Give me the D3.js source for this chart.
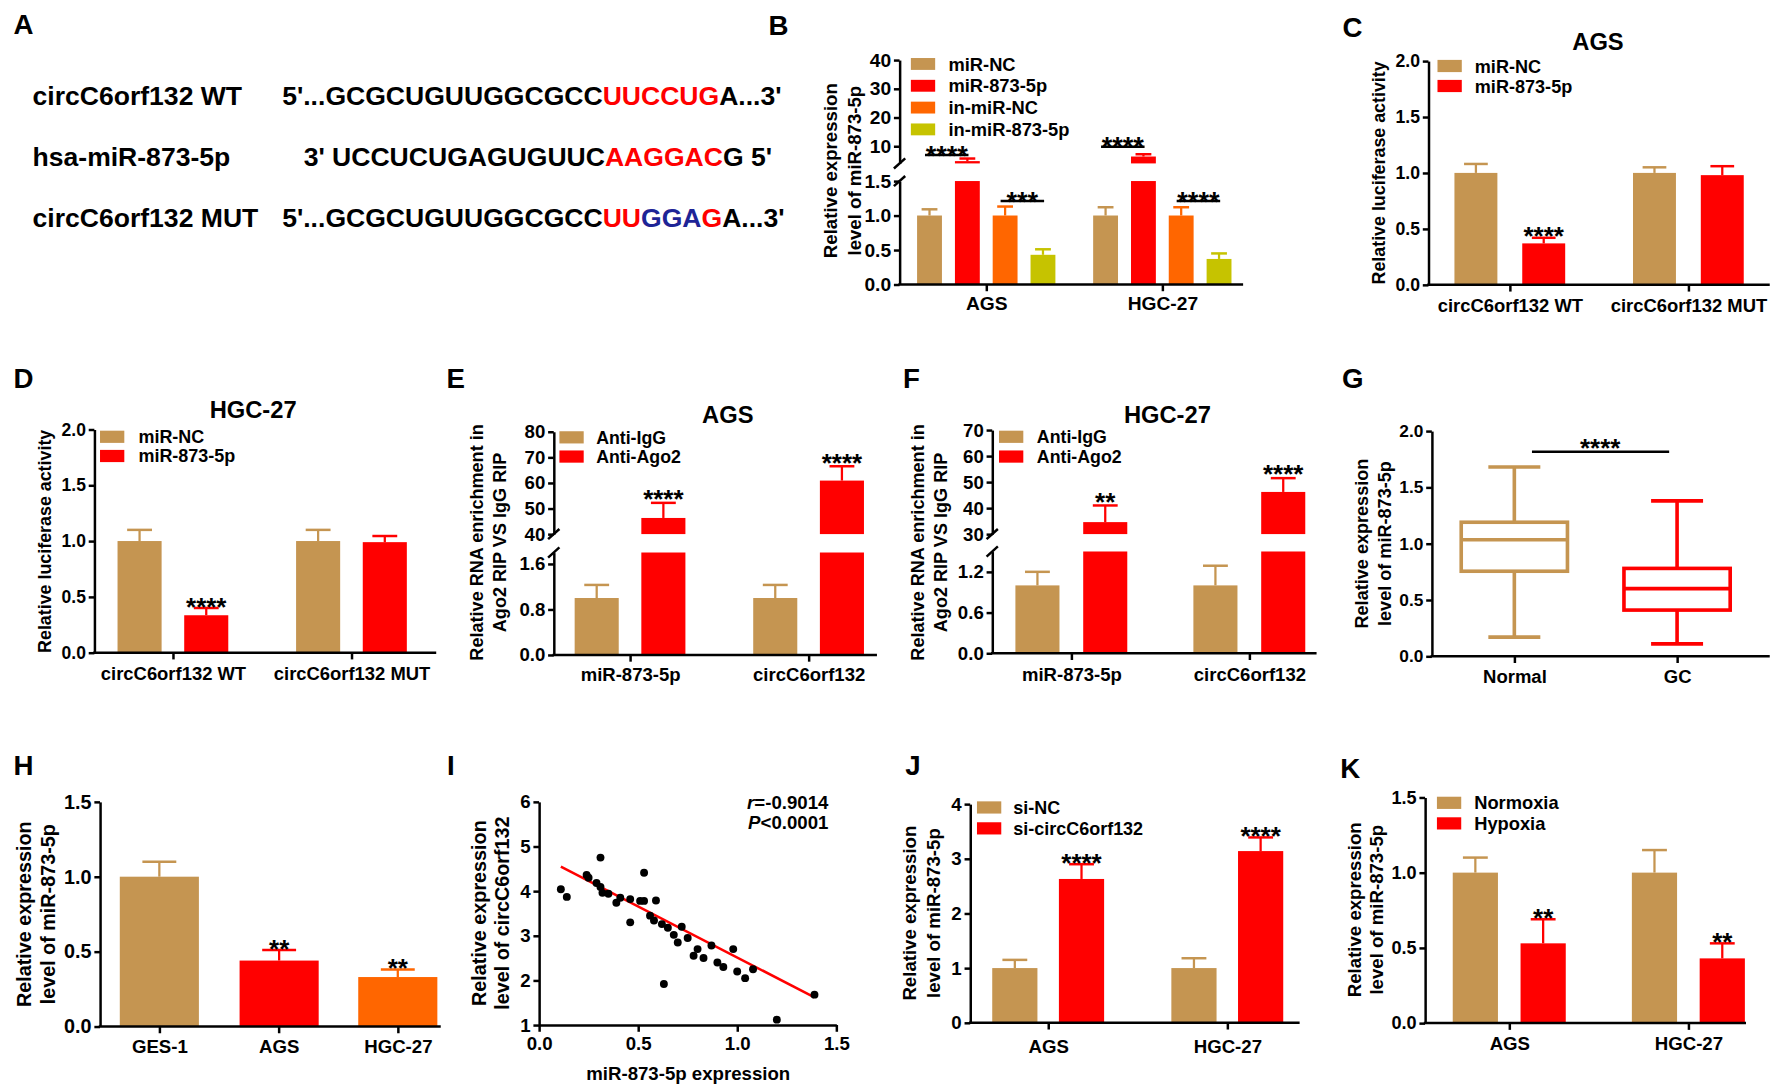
<!DOCTYPE html>
<html><head><meta charset="utf-8">
<script src="https://cdn.jsdelivr.net/npm/d3@7"></script>
<style>html,body{margin:0;padding:0;background:#fff;} svg{display:block;}</style>
</head><body>
<script>
// ================= DATA =================
// Panel A
const seqLabels = ["circC6orf132 WT", "hsa-miR-873-5p", "circC6orf132 MUT"];
const seqParts = [
  [["5'...GCGCUGUUGGCGCC","k"],["UUCCUG","r"],["A...3'","k"]],
  [["3' UCCUCUGAGUGUUC","k"],["AAGGAC","r"],["G 5'","k"]],
  [["5'...GCGCUGUUGGCGCC","k"],["UU","r"],["GGA","b"],["G","r"],["A...3'","k"]]
];
// Panel B
const bCats = ["AGS","HGC-27"];
const bSeries = ["miR-NC","miR-873-5p","in-miR-NC","in-miR-873-5p"];
const bMeans = [[1.00,4.8,1.00,0.43],[1.00,6.4,1.00,0.37]];
const bErrs  = [[0.09,0.9,0.13,0.08],[0.12,0.8,0.12,0.08]];
const bLowTicks = [0,0.5,1.0,1.5];
const bUpTicks = [10,20,30,40];
const bSigPairs = [[0,0,1],[0,2,3],[1,0,1],[1,2,3]];
const bSigLabels = ["****","***","****","****"];
const bSigLevels = [6.9,1.21,9.8,1.21];
// Panel C
const cCats = ["circC6orf132 WT","circC6orf132 MUT"];
const cSeries = ["miR-NC","miR-873-5p"];
const cMeans = [[1.00,0.37],[1.00,0.98]];
const cErrs  = [[0.08,0.05],[0.05,0.08]];
const cTicks = [0,0.5,1.0,1.5,2.0];
// Panel D
const dCats = ["circC6orf132 WT","circC6orf132 MUT"];
const dSeries = ["miR-NC","miR-873-5p"];
const dMeans = [[1.00,0.335],[1.00,0.99]];
const dErrs  = [[0.10,0.065],[0.10,0.055]];
const dTicks = [0,0.5,1.0,1.5,2.0];
// Panel E
const eCats = ["miR-873-5p","circC6orf132"];
const eSeries = ["Anti-IgG","Anti-Ago2"];
const eMeans = [[1.00,46.3],[1.00,60.9]];
const eErrs  = [[0.23,5.9],[0.23,5.6]];
const eLowTicks = [0,0.8,1.6];
const eUpTicks = [40,50,60,70,80];
// Panel F
const fCats = ["miR-873-5p","circC6orf132"];
const fSeries = ["Anti-IgG","Anti-Ago2"];
const fMeans = [[1.00,34.6],[1.00,46.2]];
const fErrs  = [[0.20,6.4],[0.29,5.3]];
const fLowTicks = [0,0.6,1.2];
const fUpTicks = [30,40,50,60,70];
// Panel G (box plots)
const gCats = ["Normal","GC"];
const gMin = [0.17,0.11];
const gQ1  = [0.755,0.41];
const gMed = [1.035,0.60];
const gQ3  = [1.19,0.78];
const gMax = [1.68,1.38];
const gTicks = [0,0.5,1.0,1.5,2.0];
// Panel H
const hCats = ["GES-1","AGS","HGC-27"];
const hMeans = [1.00,0.44,0.33];
const hErrs  = [0.10,0.07,0.05];
const hTicks = [0,0.5,1.0,1.5];
// Panel I (scatter)
const iX = [0.11,0.14,0.24,0.25,0.29,0.31,0.31,0.32,0.35,0.39,0.41,0.46,0.46,0.51,0.53,0.53,0.56,0.58,0.59,0.62,0.63,0.65,0.68,0.70,0.72,0.75,0.78,0.80,0.83,0.87,0.90,0.93,0.98,1.00,1.04,1.08,1.20,1.39];
const iY = [4.04,3.87,4.36,4.30,4.18,4.75,4.09,3.96,3.94,3.74,3.85,3.82,3.30,3.78,4.41,3.78,3.45,3.34,3.79,3.26,1.92,3.18,3.02,2.85,3.20,2.95,2.55,2.70,2.50,2.78,2.40,2.30,2.70,2.20,2.05,2.25,1.12,1.68];
const iFitX = [0.11,1.39];
const iFitY = [4.55,1.62];
const iXTicks = [0,0.5,1.0,1.5];
const iYTicks = [1,2,3,4,5,6];
// Panel J
const jCats = ["AGS","HGC-27"];
const jSeries = ["si-NC","si-circC6orf132"];
const jMeans = [[1.00,2.63],[1.00,3.14]];
const jErrs  = [[0.15,0.27],[0.18,0.25]];
const jTicks = [0,1,2,3,4];
// Panel K
const kCats = ["AGS","HGC-27"];
const kSeries = ["Normoxia","Hypoxia"];
const kMeans = [[1.00,0.53],[1.00,0.43]];
const kErrs  = [[0.10,0.16],[0.15,0.10]];
const kTicks = [0,0.5,1.0,1.5];

// ================= STYLE / SETUP =================
const FONT = "'Liberation Sans', Arial, Helvetica, sans-serif";
const TAN="#C59551", RED="#FF0000", ORANGE="#FF6600", OLIVE="#C6C300", NAVY="#1E2496";
const seqColor = {k:"#000", r:"#FF0000", b:NAVY};
const LW = 2.2;
const W=1772, H=1087, S=W/1568;
const svg = d3.select("body").append("svg").attr("width",W).attr("height",H);
svg.append("rect").attr("width",W).attr("height",H).attr("fill","#fff");
const root = svg.append("g").attr("transform",`scale(${S})`)
  .attr("font-family",FONT).attr("font-weight","bold");

function txt(g,x,y,s,fs,anchor){
  return g.append("text").attr("x",x).attr("y",y).attr("font-size",fs)
    .attr("text-anchor",anchor||"start").attr("fill","#000").text(s);
}
function yTitle(g,lines,xs,cy,fs){
  lines.forEach((ln,i)=>{
    g.append("text").attr("transform",`translate(${xs[i]+0.36*fs},${cy}) rotate(-90)`)
      .attr("text-anchor","middle").attr("font-size",fs).attr("fill","#000").text(ln);
  });
}
function styleAxis(a,fs){
  a.attr("font-family",FONT).attr("font-weight","bold").attr("font-size",fs);
  a.select(".domain").attr("stroke","#000").attr("stroke-width",LW);
  a.selectAll(".tick line").attr("stroke","#000").attr("stroke-width",LW);
  a.selectAll(".tick text").attr("fill","#000");
}
function legend(g,L,names,colors){
  names.forEach((n,i)=>{
    const cy=L.y0+i*L.dy;
    g.append("rect").attr("x",L.x).attr("y",cy-L.sh/2).attr("width",L.sw).attr("height",L.sh).attr("fill",colors[i]);
    txt(g,L.tx,cy+0.36*L.fs,n,L.fs);
  });
}
function slash(g,x,y){
  g.append("line").attr("x1",x-5).attr("y1",y+4.5).attr("x2",x+5).attr("y2",y-4.5)
    .attr("stroke","#000").attr("stroke-width",LW);
}
function catAxis(g,p,y0){
  const xp=d3.scalePoint().domain(p.cats).range([p.catX[0],p.catX[p.catX.length-1]]);
  const pad=p.catY-y0-6-0.71*p.catFs;
  const xa=g.append("g").attr("transform",`translate(0,${y0})`)
    .call(d3.axisBottom(xp).tickSize(6).tickSizeOuter(0).tickPadding(pad));
  xa.select(".domain").remove();
  styleAxis(xa,p.catFs);
  g.append("line").attr("x1",p.ax-LW/2).attr("x2",p.xEnd).attr("y1",y0).attr("y2",y0)
    .attr("stroke","#000").attr("stroke-width",LW);
}

function barPanel(p){
  const g=root.append("g");
  const segs=p.segs.map(s=>Object.assign({},s,{sc:d3.scaleLinear().domain(s.domain).range(s.range)}));
  const segOf=v=>(segs.length>1 && v>segs[1].domain[0])?segs[1]:segs[0];
  const y0=segs[0].sc(0);
  const cxOf=(i,j)=>p.catX[i]+(p.off?p.off[j]:0);
  p.means.forEach((row,i)=>row.forEach((v,j)=>{
    const cx=cxOf(i,j);
    const col=p.colorByCat?p.colors[i]:p.colors[j];
    const lo=segs[0];
    const tl=lo.sc(Math.min(v,lo.domain[1]));
    g.append("rect").attr("x",cx-p.bw/2).attr("y",tl).attr("width",p.bw).attr("height",y0-tl).attr("fill",col);
    if(segs.length>1 && v>segs[1].domain[0]){
      const up=segs[1], t=up.sc(v), b=up.sc(up.domain[0]);
      g.append("rect").attr("x",cx-p.bw/2).attr("y",t).attr("width",p.bw).attr("height",b-t).attr("fill",col);
    }
    const e=p.errs[i][j], sg=segOf(v), yt=sg.sc(v), ye=sg.sc(v+e);
    g.append("line").attr("x1",cx).attr("x2",cx).attr("y1",yt).attr("y2",ye).attr("stroke",col).attr("stroke-width",2);
    g.append("line").attr("x1",cx-p.capW/2).attr("x2",cx+p.capW/2).attr("y1",ye).attr("y2",ye).attr("stroke",col).attr("stroke-width",2.2);
  }));
  segs.forEach(s=>{
    const ax=d3.axisLeft(s.sc).tickValues(s.ticks).tickSize(5).tickSizeOuter(0).tickPadding(2.5).tickFormat(d3.format(s.fmt));
    const a=g.append("g").attr("transform",`translate(${p.ax},0)`).call(ax);
    styleAxis(a,p.fs);
  });
  if(segs.length>1){ slash(g,p.ax,segs[0].range[1]); slash(g,p.ax,segs[1].range[0]); }
  catAxis(g,p,y0);
  if(p.legend) legend(g,p.legend,p.series,p.colors);
  if(p.title) txt(g,p.title.x,p.title.y,p.title.text,21,"middle");
  yTitle(g,p.ytitle.lines,p.ytitle.xs,p.ytitle.cy,p.ytitle.fs);
  const sfs=p.sigFs||23;
  (p.sig||[]).forEach(s=>{
    const v=p.means[s.cat][s.ser], e=p.errs[s.cat][s.ser];
    const ye=segOf(v).sc(v+e);
    txt(g,cxOf(s.cat,s.ser),ye-(p.sigGap||3)+0.42*sfs,s.label,sfs,"middle");
  });
  (p.sigLines||[]).forEach(s=>{
    const ly=segOf(s.v).sc(s.v);
    const x1=cxOf(s.cat,s.from)-4, x2=cxOf(s.cat,s.to)+1;
    g.append("line").attr("x1",x1).attr("x2",x2).attr("y1",ly).attr("y2",ly).attr("stroke","#000").attr("stroke-width",LW);
    txt(g,(x1+x2)/2,ly+0.42*sfs-1.5,s.label,sfs,"middle");
  });
}
function letter(l,x,y){ txt(root,x,y,l,24.5); }

// ================= PANEL A =================
letter("A",12,30);
const aRowY=[93,147,200.5], aSeqX=[249.7,268.7,249.7];
seqLabels.forEach((lab,i)=>{
  txt(root,28.8,aRowY[i],lab,23.5);
  const t=root.append("text").attr("x",aSeqX[i]).attr("y",aRowY[i]).attr("font-size",23.5);
  seqParts[i].forEach(([s,c])=>t.append("tspan").attr("fill",seqColor[c]).text(s));
});

// ================= PANEL B =================
letter("B",680,31);
barPanel({
  ax:796, xEnd:1100,
  segs:[{domain:[0,1.5],range:[251.7,160.2],ticks:bLowTicks,fmt:".1f"},
        {domain:[4,40],range:[144.6,53.1],ticks:bUpTicks,fmt:"d"}],
  cats:bCats, series:bSeries, catX:[872.7,1028.5], off:[-50.2,-16.7,16.7,50.2],
  bw:22, capW:14, means:bMeans, errs:bErrs, colors:[TAN,RED,ORANGE,OLIVE],
  fs:17, catFs:17, catY:274,
  legend:{x:806,y0:56.6,dy:19.3,sw:21.5,sh:10.5,tx:839.3,fs:16.2},
  ytitle:{lines:["Relative expression","level of miR-873-5p"],xs:[735,756],cy:151,fs:16.5},
  sigFs:24,
  sigLines:bSigPairs.map((d,k)=>({cat:d[0],from:d[1],to:d[2],label:bSigLabels[k],v:bSigLevels[k]}))
});

// ================= PANEL C =================
letter("C",1188,33);
barPanel({
  ax:1264, xEnd:1566,
  segs:[{domain:[0,2],range:[252,54],ticks:cTicks,fmt:".1f"}],
  cats:cCats, series:cSeries, catX:[1336,1494], off:[-30,30],
  bw:38, capW:21, means:cMeans, errs:cErrs, colors:[TAN,RED],
  fs:15.6, catFs:16.3, catY:276,
  legend:{x:1272,y0:58.4,dy:17.7,sw:21.5,sh:10.8,tx:1305,fs:16},
  title:{text:"AGS",x:1414,y:44.5},
  ytitle:{lines:["Relative luciferase activity"],xs:[1220],cy:153,fs:15.8},
  sig:[{cat:0,ser:1,label:"****"}]
});

// ================= PANEL D =================
letter("D",12,343);
barPanel({
  ax:83.5, xEnd:386,
  segs:[{domain:[0,2],range:[577.5,380],ticks:dTicks,fmt:".1f"}],
  cats:dCats, series:dSeries, catX:[153,311], off:[-29.5,29.5],
  bw:39, capW:22, means:dMeans, errs:dErrs, colors:[TAN,RED],
  fs:15.5, catFs:16.3, catY:602,
  legend:{x:88.5,y0:386.5,dy:17,sw:21.5,sh:10.8,tx:122.5,fs:15.9},
  title:{text:"HGC-27",x:224,y:369.5},
  ytitle:{lines:["Relative luciferase activity"],xs:[39],cy:479,fs:15.8},
  sig:[{cat:0,ser:1,label:"****"}]
});

// ================= PANEL E =================
letter("E",395,343.7);
barPanel({
  ax:490, xEnd:776,
  segs:[{domain:[0,1.8],range:[579.5,488.9],ticks:eLowTicks,fmt:".1f"},
        {domain:[40,80],range:[472.6,382],ticks:eUpTicks,fmt:"d"}],
  cats:eCats, series:eSeries, catX:[557.5,715.5], off:[-29.5,29.5],
  bw:39, capW:22, means:eMeans, errs:eErrs, colors:[TAN,RED],
  fs:16.5, catFs:16.4, catY:603,
  legend:{x:495,y0:387,dy:17,sw:21.5,sh:10.8,tx:527.5,fs:15.7},
  title:{text:"AGS",x:644,y:374.5},
  ytitle:{lines:["Relative RNA enrichment in","Ago2 RIP VS IgG RIP"],xs:[422,442],cy:480,fs:16},
  sigGap:5,
  sig:[{cat:0,ser:1,label:"****"},{cat:1,ser:1,label:"****"}]
});

// ================= PANEL F =================
letter("F",799,343.7);
barPanel({
  ax:878, xEnd:1165,
  segs:[{domain:[0,1.5],range:[578,488],ticks:fLowTicks,fmt:".1f"},
        {domain:[30,70],range:[472.6,380.5],ticks:fUpTicks,fmt:"d"}],
  cats:fCats, series:fSeries, catX:[948,1105.5], off:[-30,30],
  bw:39, capW:22, means:fMeans, errs:fErrs, colors:[TAN,RED],
  fs:16.5, catFs:16.4, catY:603,
  legend:{x:884,y0:386.5,dy:17.5,sw:21.5,sh:10.8,tx:917.5,fs:15.7},
  title:{text:"HGC-27",x:1033,y:374.5},
  ytitle:{lines:["Relative RNA enrichment in","Ago2 RIP VS IgG RIP"],xs:[812,832],cy:480,fs:16},
  sigGap:5,
  sig:[{cat:0,ser:1,label:"**"},{cat:1,ser:1,label:"****"}]
});

// ================= PANEL G =================
letter("G",1187.5,343.5);
(function(){
  const g=root.append("g");
  const ax=1267, xEnd=1566, bwid=94, cw=46, BL=3.2;
  const y=d3.scaleLinear().domain([0,2]).range([580.7,381.4]);
  const catX=[1340,1484], cols=[TAN,RED];
  gCats.forEach((c,i)=>{
    const cx=catX[i], col=cols[i];
    const line=(x1,y1,x2,y2)=>g.append("line").attr("x1",x1).attr("y1",y1).attr("x2",x2).attr("y2",y2).attr("stroke",col).attr("stroke-width",BL);
    line(cx,y(gQ3[i]),cx,y(gMax[i]));
    line(cx,y(gQ1[i]),cx,y(gMin[i]));
    line(cx-cw/2,y(gMax[i]),cx+cw/2,y(gMax[i]));
    line(cx-cw/2,y(gMin[i]),cx+cw/2,y(gMin[i]));
    g.append("rect").attr("x",cx-bwid/2).attr("y",y(gQ3[i])).attr("width",bwid)
      .attr("height",y(gQ1[i])-y(gQ3[i])).attr("fill","none").attr("stroke",col).attr("stroke-width",BL);
    line(cx-bwid/2,y(gMed[i]),cx+bwid/2,y(gMed[i]));
  });
  const a=g.append("g").attr("transform",`translate(${ax},0)`)
    .call(d3.axisLeft(y).tickValues(gTicks).tickSize(5).tickSizeOuter(0).tickPadding(2.5).tickFormat(d3.format(".1f")));
  styleAxis(a,15.3);
  catAxis(g,{cats:gCats,catX:catX,catY:604,catFs:16.4,ax:ax,xEnd:xEnd},y(0));
  yTitle(g,["Relative expression","level of miR-873-5p"],[1205,1225],481,16);
  g.append("line").attr("x1",1355.6).attr("x2",1477).attr("y1",399.7).attr("y2",399.7).attr("stroke","#000").attr("stroke-width",LW);
  txt(g,1416,399.7-5+0.42*23,"****",23,"middle");
})();

// ================= PANEL H =================
letter("H",12,686);
barPanel({
  ax:88.5, xEnd:390,
  segs:[{domain:[0,1.5],range:[908.3,709.5],ticks:hTicks,fmt:".1f"}],
  cats:hCats, series:["v"], catX:[141,247,352], off:null,
  bw:70, capW:30, means:hMeans.map(v=>[v]), errs:hErrs.map(v=>[v]), colors:[TAN,RED,ORANGE], colorByCat:true,
  fs:17.5, catFs:16.5, catY:932,
  ytitle:{lines:["Relative expression","level of miR-873-5p"],xs:[21,42],cy:809,fs:17.5},
  sig:[{cat:1,ser:0,label:"**"},{cat:2,ser:0,label:"**"}]
});

// ================= PANEL I =================
letter("I",395.5,686);
(function(){
  const g=root.append("g");
  const x=d3.scaleLinear().domain([0,1.5]).range([477,740]);
  const y=d3.scaleLinear().domain([1,6]).range([907,709.5]);
  g.append("line").attr("x1",x(iFitX[0])).attr("y1",y(iFitY[0])).attr("x2",x(iFitX[1])).attr("y2",y(iFitY[1]))
    .attr("stroke",RED).attr("stroke-width",2.2);
  g.selectAll("circle.pt").data(iX.map((v,k)=>[v,iY[k]])).enter().append("circle")
    .attr("cx",d=>x(d[0])).attr("cy",d=>y(d[1])).attr("r",3.5).attr("fill","#000");
  const ya=g.append("g").attr("transform",`translate(${x(0)},0)`)
    .call(d3.axisLeft(y).tickValues(iYTicks).tickSize(5).tickSizeOuter(0).tickPadding(2.5).tickFormat(d3.format("d")));
  styleAxis(ya,16.5);
  const xa=g.append("g").attr("transform",`translate(0,${y(1)})`)
    .call(d3.axisBottom(x).tickValues(iXTicks).tickSize(6).tickSizeOuter(0).tickPadding(4).tickFormat(d3.format(".1f")));
  styleAxis(xa,16.5);
  yTitle(g,["Relative expression","level of circC6orf132"],[424,444],808,17.5);
  txt(g,609,956,"miR-873-5p expression",16.5,"middle");
  const t1=g.append("text").attr("x",733).attr("y",715.5).attr("font-size",16.5).attr("text-anchor","end");
  t1.append("tspan").attr("font-style","italic").text("r");
  t1.append("tspan").text("=-0.9014");
  const t2=g.append("text").attr("x",733).attr("y",734).attr("font-size",16.5).attr("text-anchor","end");
  t2.append("tspan").attr("font-style","italic").text("P");
  t2.append("tspan").text("<0.0001");
})();

// ================= PANEL J =================
letter("J",801,686);
barPanel({
  ax:858.5, xEnd:1150,
  segs:[{domain:[0,4],range:[905,711.5],ticks:jTicks,fmt:"d"}],
  cats:jCats, series:jSeries, catX:[927.5,1086], off:[-29.5,29.5],
  bw:40, capW:22, means:jMeans, errs:jErrs, colors:[TAN,RED],
  fs:16.5, catFs:16.5, catY:932,
  legend:{x:864.5,y0:714.5,dy:18.5,sw:21.5,sh:10.8,tx:896.7,fs:15.9},
  ytitle:{lines:["Relative expression","level of miR-873-5p"],xs:[805,826],cy:808,fs:16.5},
  sig:[{cat:0,ser:1,label:"****"},{cat:1,ser:1,label:"****"}]
});

// ================= PANEL K =================
letter("K",1186,688);
barPanel({
  ax:1261, xEnd:1545,
  segs:[{domain:[0,1.5],range:[905.3,705.6],ticks:kTicks,fmt:".1f"}],
  cats:kCats, series:kSeries, catX:[1335.5,1494], off:[-30,30],
  bw:40, capW:22, means:kMeans, errs:kErrs, colors:[TAN,RED],
  fs:16, catFs:16.5, catY:929,
  legend:{x:1271.5,y0:710.4,dy:18.2,sw:21.5,sh:10.8,tx:1304.5,fs:16.2},
  ytitle:{lines:["Relative expression","level of miR-873-5p"],xs:[1198,1218],cy:805,fs:16.5},
  sig:[{cat:0,ser:1,label:"**"},{cat:1,ser:1,label:"**"}]
});
</script>
</body></html>
